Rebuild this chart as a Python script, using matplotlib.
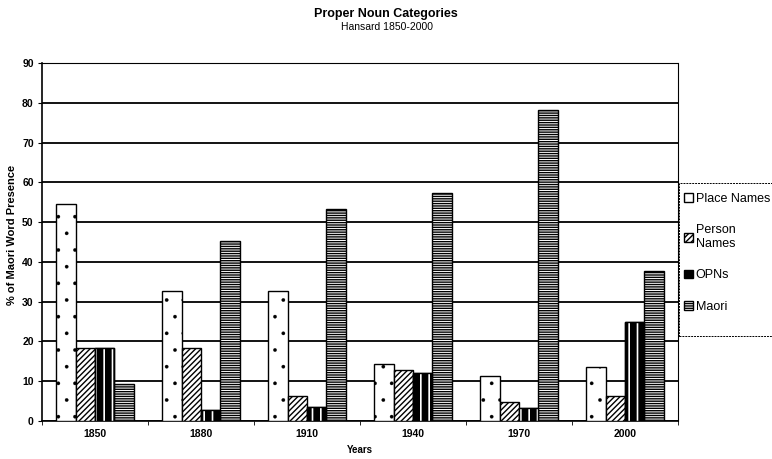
import matplotlib
matplotlib.use("Agg")
import matplotlib.pyplot as plt
from matplotlib.patches import Rectangle
import numpy as np

plt.rcParams['font.family'] = ['Liberation Sans', 'DejaVu Sans']
plt.rcParams['hatch.linewidth'] = 1.0

years = ['1850', '1880', '1910', '1940', '1970', '2000']
series_names = ['Place Names', 'Person\nNames', 'OPNs', 'Maori']
place_names = [54.6, 32.6, 32.7, 14.4, 11.3, 13.7]
person_names = [18.4, 18.4, 6.4, 12.8, 4.7, 6.4]
opns = [18.4, 2.8, 3.6, 12.1, 3.2, 25.0]
maori = [9.3, 45.3, 53.2, 57.4, 78.2, 37.7]

values = [place_names, person_names, opns, maori]
hatches = ['.', '//////', None, '-------']
hatch_widths = [0.2, 1.0, 1.0, 1.0]
faces = ['white', 'white', 'black', 'white']


def set_hatch_width(container, lw):
    for p in container:
        if hasattr(p, 'set_hatch_linewidth'):
            p.set_hatch_linewidth(lw)


fig = plt.figure(figsize=(7.72, 4.59), dpi=100)
ax = fig.add_axes([42/772, 1-421/459, (678-42)/772, (421-63)/459])

x = np.arange(len(years))
w = 0.182
offsets = (np.arange(4) - 1.5) * w
handles = []
for i, vals in enumerate(values):
    bars = ax.bar(x + offsets[i], vals, width=w, facecolor=faces[i], edgecolor='black',
                  hatch=hatches[i], linewidth=1.0, zorder=3)
    set_hatch_width(bars, hatch_widths[i])
    if series_names[i] == 'OPNs':
        # black bars with white vertical stripes
        stripes = ax.bar(x + offsets[i], vals, width=w, facecolor='none', edgecolor='white',
                         hatch='||', linewidth=0, zorder=4)
        set_hatch_width(stripes, 1.2)
        ax.bar(x + offsets[i], vals, width=w, facecolor='none', edgecolor='black',
               linewidth=1.0, zorder=5)
    handles.append(bars)

ax.set_xlim(-0.5, len(years) - 0.5)
ax.set_ylim(0, 90)
ax.set_yticks(np.arange(0, 91, 10))
ax.set_xticks(x)
ax.set_xticklabels(years)
ax.set_xticks(np.arange(-0.5, len(years), 1.0), minor=True)
ax.tick_params(axis='x', which='major', length=0, labelsize=7.5, pad=6)
ax.tick_params(axis='x', which='minor', length=3, direction='out')
ax.tick_params(axis='y', length=3, direction='out', labelsize=7.5, pad=3)
for lbl in ax.get_xticklabels() + ax.get_yticklabels():
    lbl.set_fontweight('bold')

ax.yaxis.grid(True, color='black', linewidth=1.3, zorder=0)
ax.set_axisbelow(True)
ax.spines['left'].set_linewidth(1.2)
ax.spines['bottom'].set_linewidth(1.2)
ax.spines['top'].set_linewidth(0.8)
ax.spines['top'].set_linestyle((0, (2, 1)))
ax.spines['right'].set_linewidth(0.8)
ax.spines['right'].set_linestyle((0, (2, 1)))

ax.set_xlabel('Years', fontsize=7, fontweight='bold', labelpad=4)
ax.set_ylabel('% of Maori Word Presence', fontsize=8, fontweight='bold', labelpad=5)
ax.yaxis.set_label_coords(-0.04, 0.52)

fig.text(386/772, 1-14/459, 'Proper Noun Categories', ha='center', va='center',
         fontsize=9, fontweight='bold')
fig.text(387/772, 1-27/459, 'Hansard 1850-2000', ha='center', va='center', fontsize=7.5)

# legend box drawn separately so its padding can be uneven
fig.patches.append(Rectangle((679/772, 1-336/459), 100/772, (336-183)/459,
                             transform=fig.transFigure, facecolor='white',
                             edgecolor='black', linewidth=0.7,
                             linestyle=(0, (2, 1)), zorder=1))
leg = fig.legend(handles, series_names, loc='upper left',
                 bbox_to_anchor=(680/772, 1-189/459), fontsize=9,
                 handlelength=0.7, handleheight=0.7, handletextpad=0.25,
                 labelspacing=1.55, borderpad=0.3, frameon=False,
                 borderaxespad=0)
leg.set_zorder(2)
for p in leg.get_patches():
    if p.get_hatch() == '.' and hasattr(p, 'set_hatch_linewidth'):
        p.set_hatch_linewidth(0.2)

fig.savefig('out.png', dpi=100)
